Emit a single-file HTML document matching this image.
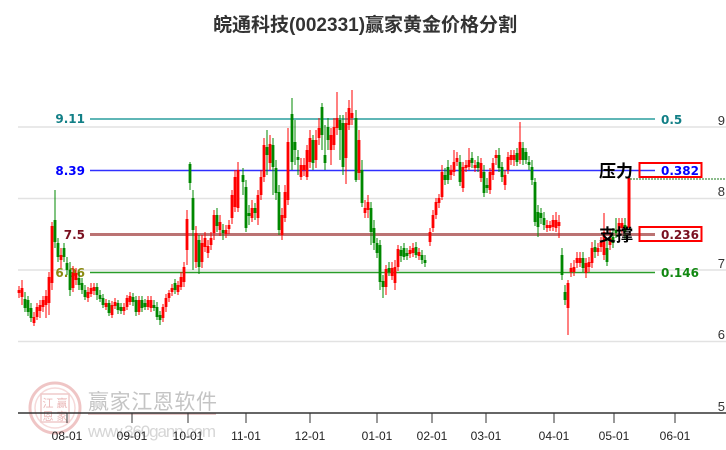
<!DOCTYPE html>
<html><head><meta charset="utf-8"><style>
html,body{margin:0;padding:0;background:#fff;}
svg{display:block;}
</style></head><body>
<svg width="726" height="450" viewBox="0 0 726 450" xmlns="http://www.w3.org/2000/svg">
<rect width="726" height="450" fill="#fff"/>
<text x="365" y="31" text-anchor="middle" font-family="Liberation Sans, Noto Sans CJK SC, sans-serif" font-size="19" font-weight="bold" fill="#333">皖通科技(002331)赢家黄金价格分割</text>
<g opacity="0.6">
<circle cx="55" cy="408" r="25" fill="none" stroke="#e6a0a0" stroke-width="3"/>
<circle cx="55" cy="408" r="20" fill="none" stroke="#f0c0c0" stroke-width="1.5"/>
<rect x="41" y="394" width="28" height="28" fill="none" stroke="#e6a8a8" stroke-width="1.5"/>
<text x="48" y="407" text-anchor="middle" font-family="Noto Sans CJK SC, sans-serif" font-size="11" fill="#d88">江</text>
<text x="62" y="407" text-anchor="middle" font-family="Noto Sans CJK SC, sans-serif" font-size="11" fill="#d88">赢</text>
<text x="48" y="420" text-anchor="middle" font-family="Noto Sans CJK SC, sans-serif" font-size="11" fill="#d88">恩</text>
<text x="62" y="420" text-anchor="middle" font-family="Noto Sans CJK SC, sans-serif" font-size="11" fill="#d88">家</text>
</g>
<text x="88" y="409" font-family="Liberation Sans, Noto Sans CJK SC, sans-serif" font-size="21" fill="#c4c4c4" textLength="129">赢家江恩软件</text>
<rect x="88" y="413" width="128" height="2" fill="#e6c8c8"/>
<text x="88" y="437" font-family="Liberation Sans, sans-serif" font-size="17" fill="#d6d6d6" textLength="128">www.360gann.com</text>
<g stroke="#e2e2e2" stroke-width="1.5">
<line x1="18" y1="127" x2="726" y2="127"/>
<line x1="18" y1="198.5" x2="726" y2="198.5"/>
<line x1="18" y1="270" x2="726" y2="270"/>
<line x1="18" y1="341.5" x2="726" y2="341.5"/>
</g>
<line x1="18" y1="413" x2="726" y2="413" stroke="#333" stroke-width="1.5"/>
<path stroke="#333" stroke-width="1" d="M67 413V423M132 413V423M188 413V423M246 413V423M310 413V423M377 413V423M432 413V423M486 413V423M554 413V423M614 413V423M675 413V423"/>
<g font-family="Liberation Sans, sans-serif" font-size="12" fill="#222" text-anchor="middle">
<text x="67" y="440">08-01</text>
<text x="132" y="440">09-01</text>
<text x="188" y="440">10-01</text>
<text x="246" y="440">11-01</text>
<text x="310" y="440">12-01</text>
<text x="377" y="440">01-01</text>
<text x="432" y="440">02-01</text>
<text x="486" y="440">03-01</text>
<text x="554" y="440">04-01</text>
<text x="614" y="440">05-01</text>
<text x="675" y="440">06-01</text>
</g>
<g font-family="Liberation Sans, sans-serif" font-size="13" fill="#333" text-anchor="end">
<text x="725" y="125">9</text>
<text x="725" y="196">8</text>
<text x="725" y="268">7</text>
<text x="725" y="339">6</text>
<text x="725" y="411">5</text>
</g>
<line x1="90" y1="119" x2="655" y2="119" stroke="#2a9d9d" stroke-width="1.5"/>
<line x1="90" y1="170.5" x2="655" y2="170.5" stroke="#3030ff" stroke-width="1.5"/>
<line x1="90" y1="234.5" x2="655" y2="234.5" stroke="#bb7373" stroke-width="3"/>
<line x1="90" y1="272.5" x2="655" y2="272.5" stroke="#2a9d2a" stroke-width="1.5"/>
<g font-family="DejaVu Sans, sans-serif" font-size="12" font-weight="bold" text-anchor="end">
<text x="85" y="123" fill="#117f86">9.11</text>
<text x="85" y="175" fill="#0000ff">8.39</text>
<text x="85" y="239" fill="#7a1020">7.5</text>
<text x="85" y="277" fill="#8a8a10">6.96</text>
</g>
<g font-family="DejaVu Sans, sans-serif" font-size="12" font-weight="bold">
<text x="661" y="124" fill="#117f86">0.5</text>
<text x="661" y="175" fill="#0000ff">0.382</text>
<text x="661" y="239" fill="#7a1020">0.236</text>
<text x="661" y="277" fill="#118811">0.146</text>
</g>
<path fill="none" stroke="#f00" stroke-width="1" d="M19 286V298M22 280V305M34 312V326M37 303V320M40 300V318M43 296V312M46 290V318M49 272V315M52 222V290M61 248V268M73 266V292M76 268V285M88 287V302M91 283V297M94 283V295M106 299V310M112 301V318M115 298V309M124 303V315M127 295V310M130 292V305M139 296V315M148 296V310M151 296V312M163 304V322M166 294V312M169 290V302M172 284V296M178 281V295M181 272V290M184 262V287M187 210V265M196 226V268M202 235V268M205 232V252M208 240V258M211 232V250M214 210V240M220 215V236M226 225V238M229 220V234M232 190V224M235 170V212M238 162V212M252 200V222M258 190V225M261 170V200M264 138V182M270 135V170M282 208V240M285 185V222M288 128V205M301 158V180M304 158V176M307 145V180M310 130V168M316 130V168M319 118V145M331 128V165M334 118V150M337 92V135M346 112V184M349 100V130M352 90V125M359 130V180M365 200V218M368 195V218M386 265V295M392 262V280M395 260V290M398 245V271M410 246V258M413 243V257M419 248V260M430 228V246M433 210V232M436 198V219M439 194V208M442 165V200M451 165V180M454 150V176M457 152V166M463 162V192M466 160V172M469 148V170M475 160V172M481 158V182M490 168V194M493 158V180M496 150V165M505 170V190M508 152V174M511 150V165M514 150V166M520 122V164M547 220V232M550 221V231M553 215V231M556 212V232M559 215V238M568 280V335M571 263V277M574 260V276M577 252V268M580 252V267M586 258V278M589 257V272M592 242V268M598 243V256M601 237V252M604 213V260M610 230V250M619 218V234M622 218V233"/>
<path fill="none" stroke="#f00" stroke-width="2.8" d="M19 290V293M22 288V297M34 317V323M37 307V317M40 305V311M43 300V307M46 296V305M49 277V303M52 226V283M61 255V260M73 273V288M76 273V280M88 292V298M91 288V294M94 287V291M106 303V307M112 305V315M115 302V306M124 307V311M127 298V307M130 296V302M139 300V312M148 300V307M151 300V308M163 307V318M166 298V307M169 293V298M172 288V292M178 285V292M181 277V287M184 267V282M187 219V250M196 233V262M202 243V262M205 238V247M208 246V253M211 238V245M214 215V233M220 222V230M226 230V234M229 225V229M232 195V218M235 177V207M238 170V208M252 208V218M258 195V218M261 177V195M264 145V177M270 144V163M282 215V235M285 192V218M288 142V200M301 165V177M304 165V170M307 150V177M310 138V162M316 140V160M319 128V138M331 135V150M334 127V145M337 118V128M346 123V158M349 108V125M352 113V118M359 140V173M365 208V213M368 202V210M386 269V287M392 268V276M395 267V283M398 249V267M410 250V254M413 248V253M419 252V256M430 232V242M433 215V228M436 202V215M439 198V203M442 172V197M451 170V175M454 162V172M457 158V162M463 167V188M466 165V168M469 160V167M475 165V168M481 163V178M490 172V190M493 163V175M496 155V158M505 175V185M508 157V170M511 155V160M514 155V160M520 142V160M547 225V228M550 225V228M553 220V227M556 220V228M559 222V226M568 283V308M571 268V272M574 267V272M577 258V263M580 258V263M586 263V273M589 262V267M592 248V263M598 248V252M601 242V247M604 232V255M610 238V245M619 223V230M622 223V228"/>
<path fill="none" stroke="#080" stroke-width="1" d="M25 292V312M28 296V316M31 303V322M55 190V248M58 238V262M64 243V262M67 257V275M70 262V296M79 272V290M82 278V294M85 285V300M97 283V300M100 290V302M103 294V308M109 300V316M118 300V314M121 303V314M133 293V306M136 296V316M142 296V312M145 299V310M154 300V311M157 302V320M160 311V325M175 279V294M190 162V190M193 190V270M199 235V274M217 208V232M223 224V240M243 168V195M246 180V232M249 205V225M255 203V220M267 130V175M273 138V195M276 160V200M279 185V235M292 98V170M295 120V165M298 150V175M313 135V170M322 103V150M325 125V170M328 118V150M340 115V160M343 115V175M356 110V182M362 160V207M371 202V245M374 220V250M377 238V258M380 240V290M383 275V298M389 262V276M401 246V262M404 243V260M407 248V260M416 242V258M422 250V264M425 255V267M445 168V185M448 160V184M460 155V186M472 152V168M478 156V172M484 165V197M487 178V193M499 148V172M502 162V182M517 148V166M523 142V165M526 148V164M529 156V170M532 160V185M535 178V226M538 205V237M541 208V224M544 212V230M562 248V280M565 285V305M583 252V272M595 240V258M607 240V266M613 228V248M616 218V238M625 218V240"/>
<path fill="none" stroke="#080" stroke-width="2.8" d="M25 299V308M28 300V312M31 308V318M55 220V242M58 243V257M64 248V257M67 263V270M70 270V290M79 278V285M82 283V290M85 290V297M97 287V295M100 295V299M103 298V305M109 303V313M118 303V310M121 307V311M133 297V302M136 300V312M142 300V308M145 303V307M154 305V308M157 307V317M160 315V320M175 283V290M190 164V183M193 198V230M199 240V267M217 215V226M223 230V233M243 175V182M246 187V228M249 213V216M255 208V213M267 147V155M273 145V167M276 168V193M279 192V230M292 114V162M295 142V150M298 157V160M313 140V163M322 107V135M325 155V163M328 127V140M340 120V130M343 123V167M356 118V180M362 170V203M371 208V232M374 228V243M377 243V253M380 245V282M383 281V287M389 268V272M401 250V256M404 248V257M407 253V256M416 247V255M422 255V260M425 260V263M445 175V180M448 167V180M460 162V182M472 158V163M478 162V168M484 172V193M487 185V188M499 155V168M502 167V177M517 153V162M523 148V160M526 152V160M529 162V165M532 167V180M535 182V222M538 212V227M541 213V218M544 218V225M562 255V275M565 292V300M583 258V268M595 247V252M607 248V262M613 237V243M616 230V233M625 225V232"/>
<rect x="627.5" y="178" width="3" height="50" fill="#f00"/>
<line x1="630" y1="179" x2="726" y2="179" stroke="#1a7a1a" stroke-width="1" stroke-dasharray="2,1"/>
<rect x="639.5" y="163" width="62" height="14" fill="none" stroke="#f00" stroke-width="2"/>
<rect x="639.5" y="227" width="62" height="14" fill="none" stroke="#f00" stroke-width="2"/>
<g font-family="Liberation Sans, Noto Sans CJK SC, sans-serif" font-size="17" font-weight="bold" fill="#000">
<text x="599" y="177">压力</text>
<text x="599" y="241">支撑</text>
</g>
</svg>
</body></html>
